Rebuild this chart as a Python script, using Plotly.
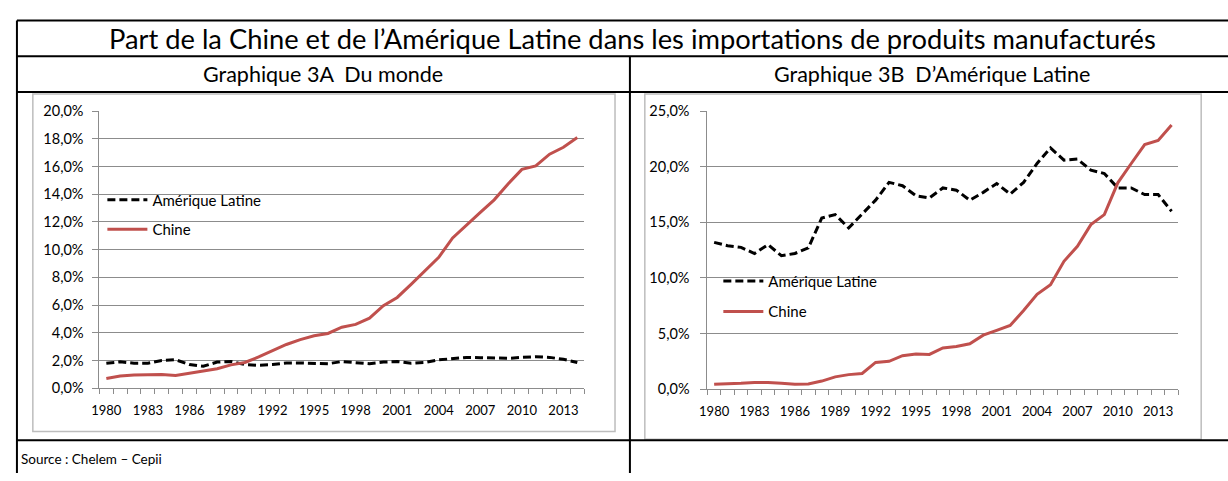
import plotly.graph_objects as go

W, H = 1228, 481

years = list(range(1980, 2015))
tick_years = years[::3]

# Graphique 3A : part dans les importations mondiales (%)
monde_chine = [0.70, 0.88, 0.95, 0.97, 0.98, 0.92, 1.08, 1.25, 1.40, 1.68, 1.85, 2.25, 2.70, 3.15, 3.50, 3.78,
               3.95, 4.40, 4.60, 5.05, 5.95, 6.55, 7.50, 8.50, 9.45, 10.85, 11.80, 12.70, 13.60, 14.75, 15.80,
               16.05, 16.90, 17.40, 18.10]
monde_al = [1.80, 1.90, 1.80, 1.80, 2.00, 2.05, 1.70, 1.58, 1.88, 1.92, 1.70, 1.65, 1.70, 1.82, 1.82, 1.78,
            1.76, 1.92, 1.85, 1.76, 1.88, 1.92, 1.80, 1.85, 2.04, 2.15, 2.22, 2.20, 2.20, 2.15, 2.22,
            2.27, 2.22, 2.08, 1.85]

# Graphique 3B : part dans les importations d'Amérique Latine (%)
al_chine = [0.43, 0.45, 0.52, 0.60, 0.60, 0.52, 0.43, 0.46, 0.72, 1.10, 1.30, 1.40, 2.40, 2.50, 3.00, 3.15,
            3.12, 3.70, 3.84, 4.07, 4.85, 5.28, 5.72, 7.07, 8.52, 9.38, 11.50, 12.85, 14.80, 15.70, 18.56,
            20.30, 22.00, 22.37, 23.76]
al_al = [13.20, 12.90, 12.75, 12.20, 13.00, 12.00, 12.20, 12.70, 15.40, 15.70, 14.50, 15.80, 17.00, 18.60, 18.30,
         17.40, 17.20, 18.10, 17.90, 17.00, 17.70, 18.50, 17.55, 18.60, 20.30, 21.70, 20.60, 20.70, 19.70, 19.40,
         18.10, 18.10, 17.50, 17.50, 16.00]

yticks_a = [0, 2, 4, 6, 8, 10, 12, 14, 16, 18, 20]
yticks_b = [0, 5, 10, 15, 20, 25]

title = "Part de la Chine et de l’Amérique Latine dans les importations de produits manufacturés"
sub_a = "Graphique 3A  Du monde"
sub_b = "Graphique 3B  D’Amérique Latine"
source = "Source : Chelem – Cepii"
name_al = "Amérique Latine"
name_cn = "Chine"

FONT = "Lato"
RED = "#C0504D"
GRID = "#8C8C8C"


def px(x):
    return x / W


def py(y):
    return 1 - y / H


def pct(v):
    return f"{v:.1f}".replace(".", ",") + "%"


fig = go.Figure()

for (al, cn, xa, ya, lg) in [(monde_al, monde_chine, "x", "y", "legend"),
                             (al_al, al_chine, "x2", "y2", "legend2")]:
    fig.add_trace(go.Scatter(x=years, y=al, mode="lines", name=name_al, xaxis=xa, yaxis=ya,
                             legend=lg, legendgroup="a",
                             line=dict(color="black", width=3, dash="8px,4px")))
    fig.add_trace(go.Scatter(x=years, y=cn, mode="lines", name=name_cn, xaxis=xa, yaxis=ya,
                             legend=lg, legendgroup="b",
                             line=dict(color=RED, width=3)))

xcommon = dict(range=[years[0] - 0.5, years[-1] + 0.5], tickmode="array", tickvals=tick_years,
               ticktext=[str(y) for y in tick_years], ticks="", showgrid=False, zeroline=False,
               showline=True, linecolor=GRID, linewidth=1, ticklabelstandoff=10,
               tickfont=dict(family=FONT, size=13, color="black"),
               minor=dict(tickmode="linear", tick0=years[0] - 0.5, dtick=1, ticks="outside",
                          ticklen=5, tickcolor=GRID, tickwidth=1, showgrid=False))

ycommon = dict(showgrid=True, gridcolor=GRID, gridwidth=1, zeroline=False, showline=True,
               linecolor=GRID, ticks="outside", ticklen=6, tickcolor=GRID, tickmode="array",
               tickfont=dict(family=FONT, size=14.5, color="black"))

fig.update_layout(
    width=W, height=H, margin=dict(l=0, r=0, t=0, b=0),
    paper_bgcolor="white", plot_bgcolor="white",
    xaxis=dict(domain=[px(92), px(580)], anchor="y", **xcommon),
    xaxis2=dict(domain=[px(704), px(1178)], anchor="y2", **xcommon),
    yaxis=dict(domain=[py(393), py(106)], range=[0, 20], anchor="x",
               tickvals=yticks_a, ticktext=[pct(v) for v in yticks_a], ticklabelstandoff=6, **ycommon),
    yaxis2=dict(domain=[py(394), py(106)], range=[0, 25], anchor="x2",
                tickvals=yticks_b, ticktext=[pct(v) for v in yticks_b], ticklabelstandoff=8, **ycommon),
    legend=dict(x=px(95), y=py(181), xanchor="left", yanchor="top", bgcolor="rgba(0,0,0,0)",
                font=dict(family=FONT, size=15, color="black"), tracegroupgap=7, itemwidth=40),
    legend2=dict(x=px(715), y=py(265), xanchor="left", yanchor="top", bgcolor="rgba(0,0,0,0)",
                 font=dict(family=FONT, size=15, color="black"), tracegroupgap=8, itemwidth=40),
    showlegend=True,
)

shapes = []
# chart frames
for (x0, y0, x1, y1) in [(25, 88, 611, 438), (641, 88, 1201, 446)]:
    shapes.append(dict(type="rect", xref="paper", yref="paper", x0=px(x0), x1=px(x1), y0=py(y0), y1=py(y1),
                       line=dict(color="#BDBDBD", width=1.5)))
# table lines
for y in [12, 49, 86, 447]:
    shapes.append(dict(type="line", xref="paper", yref="paper", x0=px(9), x1=1, y0=py(y), y1=py(y),
                       line=dict(color="black", width=2)))
shapes.append(dict(type="line", xref="paper", yref="paper", x0=px(9), x1=px(9), y0=py(12), y1=0,
                   line=dict(color="black", width=2)))
shapes.append(dict(type="line", xref="paper", yref="paper", x0=px(626), x1=px(626), y0=py(49), y1=0,
                   line=dict(color="black", width=2)))
fig.update_layout(shapes=shapes)

ann = [
    dict(text=title, x=px(629), y=py(31), xanchor="center", yanchor="middle", font=dict(size=27.3)),
    dict(text=sub_a, x=px(317), y=py(67), xanchor="center", yanchor="middle", font=dict(size=21.5)),
    dict(text=sub_b, x=px(930), y=py(67), xanchor="center", yanchor="middle", font=dict(size=21.5)),
    dict(text=source, x=px(11), y=py(466), xanchor="left", yanchor="middle", font=dict(size=13.5)),
]
for a in ann:
    a.update(xref="paper", yref="paper", showarrow=False)
    a["font"].update(family=FONT, color="black")
fig.update_layout(annotations=ann)

fig.write_html("out.html", config={"displayModeBar": False},
               post_script="document.body.style.margin='0px';")
